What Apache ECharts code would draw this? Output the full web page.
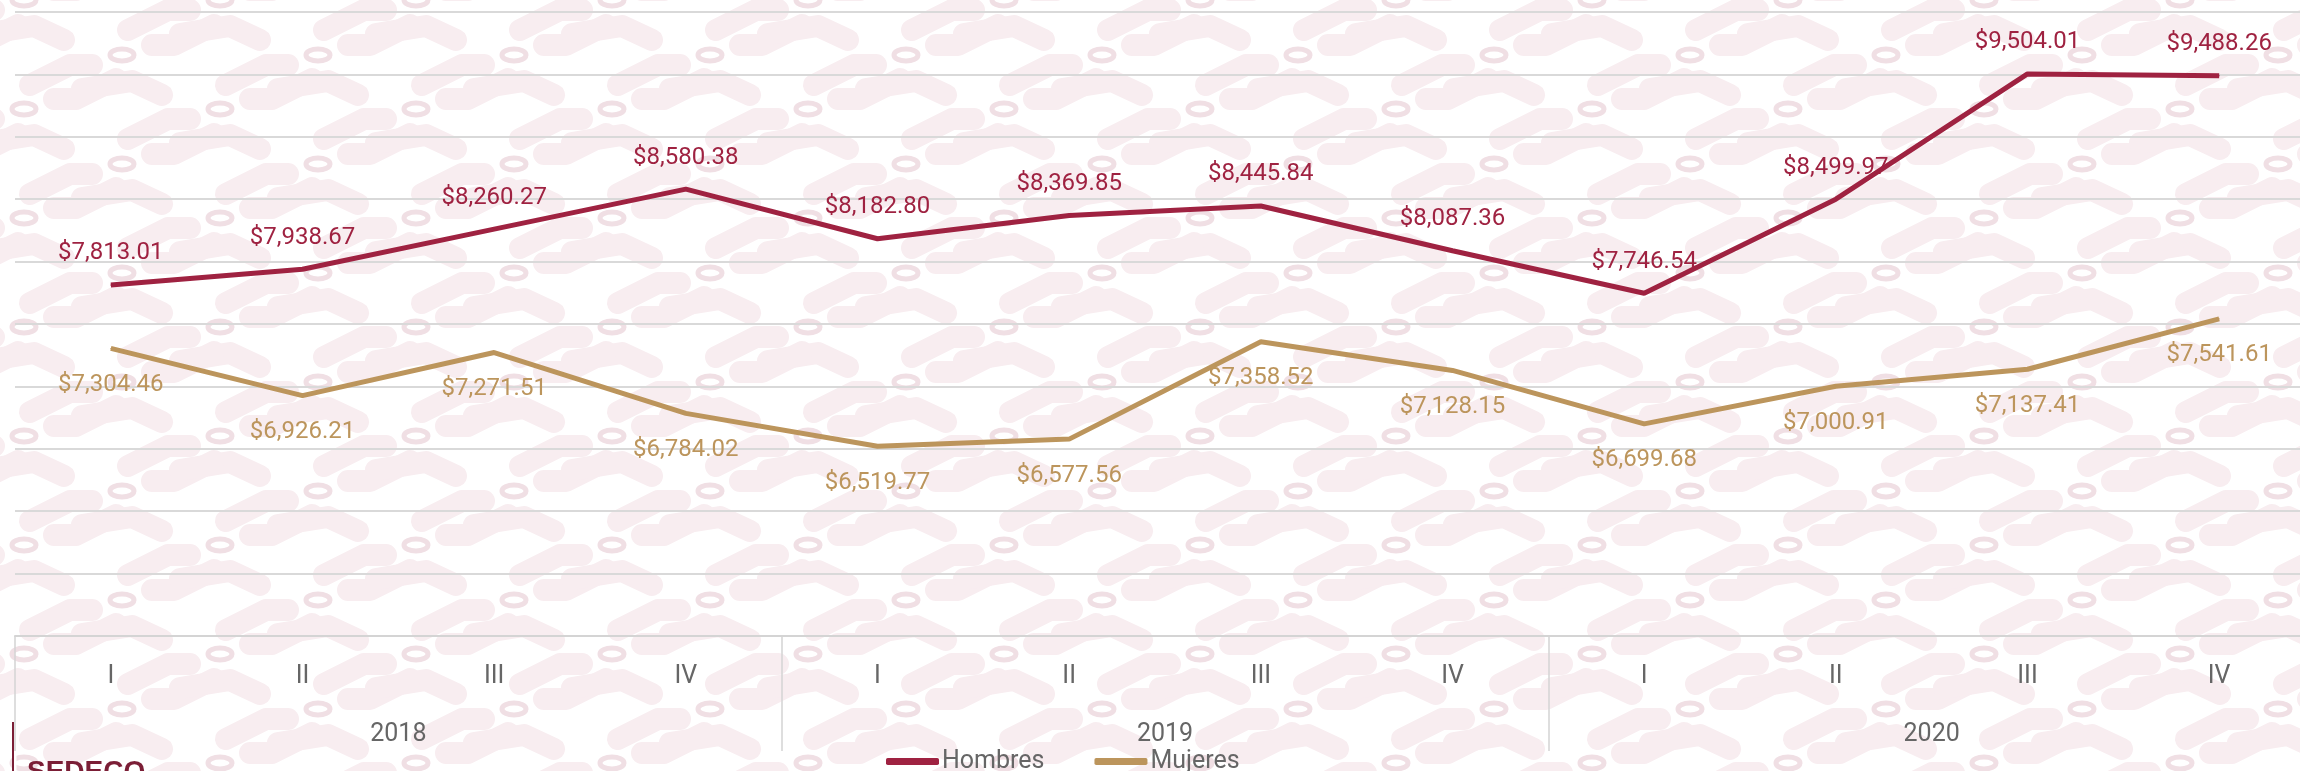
<!DOCTYPE html>
<html>
<head>
<meta charset="utf-8">
<script src="https://cdn.jsdelivr.net/npm/echarts@6/dist/echarts.min.js"></script>
<style>
html, body { margin: 0; padding: 0; background: #fff; overflow: hidden; }
#chart { width: 2316px; height: 771px; }
</style>
</head>
<body>
<div id="chart"></div>
<script>
var quarters = ['I', 'II', 'III', 'IV', 'I', 'II', 'III', 'IV', 'I', 'II', 'III', 'IV'];
var years = ['2018', '2019', '2020'];
var hombres = [7813.01, 7938.67, 8260.27, 8580.38, 8182.80, 8369.85, 8445.84, 8087.36, 7746.54, 8499.97, 9504.01, 9488.26];
var mujeres = [7304.46, 6926.21, 7271.51, 6784.02, 6519.77, 6577.56, 7358.52, 7128.15, 6699.68, 7000.91, 7137.41, 7541.61];

var FONT = "'Liberation Sans Narrow', 'Roboto', sans-serif";

// pale ornament tile for the background
function makeTile() {
    var w = 196, h = 109;
    var c = document.createElement('canvas');
    c.width = w; c.height = h;
    var g = c.getContext('2d');
    g.fillStyle = '#ffffff';
    g.fillRect(0, 0, w, h);
    var rings = [[122, 55], [24, 0], [24, 109], [220, 0], [220, 109], [-74, 55]];
    g.lineCap = 'round';
    g.lineJoin = 'round';
    rings.forEach(function (r) {
        var cx = r[0], cy = r[1];
        g.strokeStyle = '#f8edf0';
        g.lineWidth = 22;
        g.beginPath();
        g.moveTo(cx - 92, cy + 30);
        g.lineTo(cx - 52, cy + 10);
        g.lineTo(cx - 30, cy + 10);
        g.stroke();
        g.beginPath();
        g.moveTo(cx + 30, cy - 10);
        g.lineTo(cx + 52, cy - 10);
        g.lineTo(cx + 92, cy - 30);
        g.stroke();
        g.beginPath();
        g.moveTo(cx - 40, cy + 34);
        g.lineTo(cx + 10, cy + 26);
        g.lineTo(cx + 40, cy + 40);
        g.stroke();
    });
    rings.forEach(function (r) {
        g.strokeStyle = '#f0dfe4';
        g.lineWidth = 5;
        g.beginPath();
        g.ellipse(r[0], r[1], 12, 6, 0, 0, Math.PI * 2);
        g.stroke();
    });
    return c;
}

function money(v) {
    return '$' + v.toLocaleString('en-US', { minimumFractionDigits: 2, maximumFractionDigits: 2 });
}

var chart = echarts.init(document.getElementById('chart'));

var option = {
    backgroundColor: { image: makeTile(), repeat: 'repeat' },
    animation: false,
    grid: { left: 15, top: 12, right: 1, height: 624 },
    legend: {
        data: ['Hombres', 'Mujeres'],
        left: 886,
        top: 749,
        padding: 0,
        icon: 'roundRect',
        itemWidth: 53,
        itemHeight: 7,
        itemGap: 50,
        textStyle: { color: '#666666', fontSize: 25, fontFamily: FONT, padding: [0, 0, 0, -2] }
    },
    xAxis: [
        {
            type: 'category',
            data: quarters,
            boundaryGap: true,
            axisLine: { lineStyle: { color: '#d4d4d4', width: 2 } },
            axisTick: { show: false },
            axisLabel: { color: '#666666', fontSize: 25, fontFamily: FONT, margin: 28 }
        },
        {
            type: 'category',
            data: years,
            position: 'bottom',
            boundaryGap: true,
            axisLine: { show: false },
            axisTick: { show: true, length: 115, lineStyle: { color: '#d4d4d4', width: 1.5 } },
            axisLabel: { color: '#666666', fontSize: 25, fontFamily: FONT, margin: 86 }
        }
    ],
    yAxis: {
        type: 'value',
        min: 5000,
        max: 10000,
        interval: 500,
        axisLine: { show: false },
        axisTick: { show: false },
        axisLabel: { show: false },
        splitLine: { lineStyle: { color: '#d9d9d9', width: 2 } }
    },
    series: [
        {
            name: 'Hombres',
            type: 'line',
            data: hombres,
            symbol: 'circle',
            symbolSize: 1,
            color: '#9f2241',
            lineStyle: { width: 5, color: '#9f2241' },
            label: {
                show: true, position: 'top', distance: 19,
                color: '#9f2241', fontSize: 24, fontFamily: FONT,
                formatter: function (p) { return money(p.value); }
            }
        },
        {
            name: 'Mujeres',
            type: 'line',
            data: mujeres,
            symbol: 'circle',
            symbolSize: 1,
            color: '#bc955c',
            lineStyle: { width: 5, color: '#bc955c' },
            label: {
                show: true, position: 'bottom', distance: 24,
                color: '#bc955c', fontSize: 24, fontFamily: FONT,
                formatter: function (p) { return money(p.value); }
            }
        }
    ],
    graphic: [
        { type: 'line', shape: { x1: 15, y1: 722, x2: 15, y2: 771 }, style: { stroke: '#ffffff', lineWidth: 3 } },
        { type: 'line', shape: { x1: 13, y1: 722, x2: 13, y2: 771 }, style: { stroke: '#7b1e36', lineWidth: 2 } },
        { type: 'text', left: 27, top: 758, style: { text: 'SEDECO', fill: '#7b1e36', fontSize: 28, fontWeight: 'bold', fontFamily: "'Liberation Sans', sans-serif" } }
    ]
};

chart.setOption(option);
</script>
</body>
</html>
